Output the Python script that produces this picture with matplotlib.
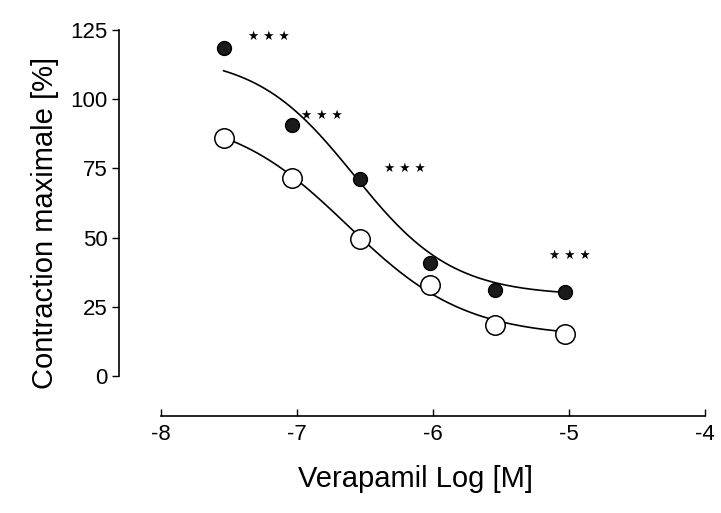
# Courbe concentration-réponse du vérapamil
import numpy as np
import matplotlib
matplotlib.use("Agg")
import matplotlib.pyplot as plt

plt.rcParams['font.family'] = ['Liberation Sans', 'DejaVu Sans']

# Données
log_conc = [-7.54, -7.04, -6.54, -6.02, -5.54, -5.03]
pleins = [118.5, 90.7, 71.2, 40.8, 31.1, 30.3]
vides = [86.0, 71.5, 49.5, 32.9, 18.4, 15.2]

# Paramètres des courbes ajustées (haut, bas, log EC50, pente)
ajust_pleins = (116.0, 29.0, -6.58, 1.2)
ajust_vides = (95.0, 14.0, -6.63, 1.0)

# Étoiles de signification
etoiles_x = [-7.21, -6.82, -6.21, -4.99]
etoiles_y = [122.5, 94.3, 75.1, 43.7]

x_ticks = [-8, -7, -6, -5, -4]
y_ticks = [0, 25, 50, 75, 100, 125]


def logistique(x, haut, bas, ec50, pente):
    return bas + (haut - bas) / (1 + 10 ** ((x - ec50) * pente))


fig = plt.figure(figsize=(7.21, 5.13), dpi=100)
ax = fig.add_axes([0.165, 0.189, 0.822, 0.7525])

xs = np.linspace(log_conc[0], log_conc[-1], 200)
ax.plot(xs, logistique(xs, *ajust_pleins), color='black', lw=1.2, zorder=2)
ax.plot(xs, logistique(xs, *ajust_vides), color='black', lw=1.2, zorder=2)

ax.plot(log_conc, pleins, 'o', ms=10, mfc='#1a1a1a', mec='black', mew=1, zorder=3)
ax.plot(log_conc, vides, 'o', ms=14, mfc='white', mec='black', mew=1.1, zorder=3)

for x, y in zip(etoiles_x, etoiles_y):
    ax.text(x, y, '★ ★ ★', fontsize=9, ha='center', va='center', family=['DejaVu Sans'])

ax.set_xlim(-8.31, -3.95)
ax.set_ylim(-14.5, 125)
ax.set_xticks(x_ticks)
ax.set_yticks(y_ticks)
ax.set_xticklabels([str(t) for t in x_ticks])

ax.spines['top'].set_visible(False)
ax.spines['right'].set_visible(False)
ax.spines['left'].set_bounds(0, 125)
ax.spines['bottom'].set_bounds(-8, -4)
ax.spines['left'].set_linewidth(1.2)
ax.spines['bottom'].set_linewidth(1.2)

ax.tick_params(axis='y', direction='out', length=5, width=1, labelsize=16, pad=3)
ax.tick_params(axis='x', direction='in', length=5, width=1, labelsize=16, pad=6)

ax.set_xlabel('Verapamil Log [M]', fontsize=21, labelpad=14)
ax.set_ylabel('Contraction maximale [%]', fontsize=21, labelpad=8)

fig.savefig('out.png', dpi=100)
